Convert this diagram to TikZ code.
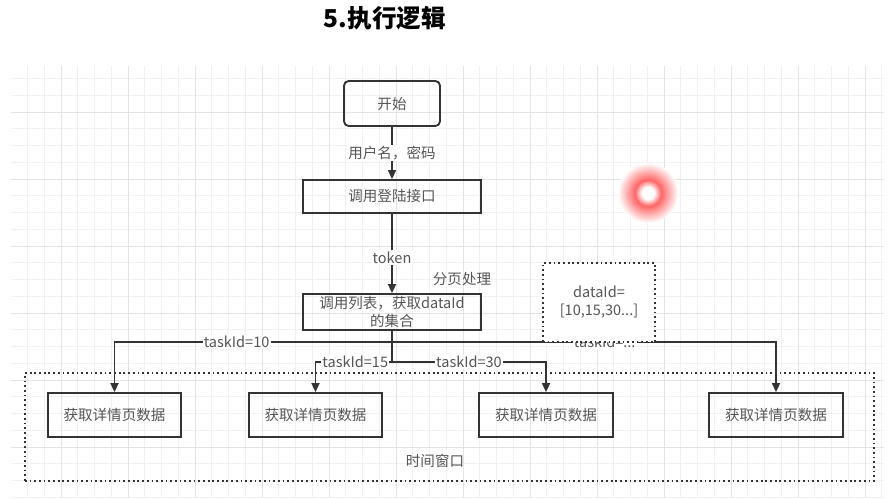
\documentclass[tikz,border=0pt]{standalone}
\usepackage{fontspec}
\setmainfont{Noto Sans CJK SC}
\usetikzlibrary{arrows.meta, positioning}

\definecolor{linegray}{HTML}{333333}
\definecolor{textgray}{HTML}{555555}
\definecolor{gridminor}{HTML}{F1F1F1}
\definecolor{gridmajor}{HTML}{E4E4E4}
\pgfdeclareradialshading{cursorglow}{\pgfpoint{0bp}{0bp}}{color(0bp)=(white); color(5bp)=(white); color(11bp)=(red!60); color(25bp)=(white); color(50bp)=(white)}

\tikzset{
  every node/.style={font=\fontsize{12.4}{15}\selectfont},
  box/.style={draw=linegray, line width=1.6pt, text=textgray, align=center, inner sep=0pt},
  detail/.style={box, minimum width=4cm, minimum height=1.32cm},
  lbl/.style={fill=white, text=textgray, inner sep=1pt},
  flow/.style={draw=linegray, line width=1.6pt, -{Triangle[length=0.27cm,width=0.24cm]}},
  dotbox/.style={draw=linegray, line width=1.5pt, dash pattern=on 1.5pt off 2.5pt}
}

\begin{document}
\begin{tikzpicture}[x=0.03cm, y=-0.03cm]
    \useasboundingbox (0,0) rectangle (895,498);
    % Background grid
    \begin{scope}
        \clip (11,66) rectangle (884,498);
        \foreach \i in {0,...,52}
            \draw[gridminor, line width=0.7pt] ({10.75+16.75*\i},66) -- ++(0,432);
        \foreach \j in {0,...,25}
            \draw[gridminor, line width=0.7pt] (11,{78.5+16.75*\j}) -- ++(873,0);
        \foreach \i in {0,...,12}
            \draw[gridmajor, line width=0.7pt] ({61+67*\i},66) -- ++(0,432);
        \foreach \j in {0,...,5}
            \draw[gridmajor, line width=0.7pt] (11,{112+67*\j}) -- ++(873,0);
    \end{scope}
    % Title
    \node[font=\fontsize{21}{25}\selectfont\bfseries] (title) at (385,18) {5.执行逻辑};
    % Cursor highlight
    \shade[shading=cursorglow] (648,193) circle (0.9cm);
    % Main flow
    \node[box, rounded corners=4pt, minimum width=2.88cm, minimum height=1.35cm] (start) at (392,103.5) {开始};
    \node[box, minimum width=5.34cm, minimum height=0.99cm] (login) at (392,196.5) {调用登陆接口};
    \node[box, minimum width=5.34cm, minimum height=1.08cm] (list) at (392,312) {调用列表，获取dataId\\的集合};
    \node[text=textgray] (paging) at (462,279) {分页处理};
    % Time window
    \node[dotbox, minimum width=25.47cm, minimum height=3.24cm] (window) at (449.5,427) {};
    \node[text=textgray] (windowlbl) at (435,461) {时间窗口};
    \node[detail] (d1) at (114.5,415) {获取详情页数据};
    \node[detail] (d2) at (315.5,415) {获取详情页数据};
    \node[detail] (d3) at (546,415) {获取详情页数据};
    \node[detail] (d4) at (776,415) {获取详情页数据};
    % Connectors
    \draw[flow] (start) -- node[lbl]{用户名，密码} (login);
    \draw[flow] (login) -- node[lbl, pos=0.55]{token} (list);
    \coordinate (busA) at (392,342);
    \coordinate (busB) at (392,362);
    \draw[flow] (list.south) -- (busA) -| node[lbl, pos=0.28]{taskId=10} (d1.north);
    \draw[flow] (busA) -| node[lbl, pos=0.277]{taskId=...} (d4.north);
    \draw[flow] (list.south) -- (busB) -| node[lbl, pos=0.24]{taskId=15} (d2.north);
    \draw[flow] (busB) -| node[lbl, pos=0.25]{taskId=30} (d3.north);
    % dataId note
    \node[dotbox, fill=white, text=textgray, align=center, minimum width=3.36cm, minimum height=2.37cm,
        font=\fontsize{12.4}{15.5}\selectfont] (dataids) at (599,302.5) {dataId=\\{}[10,15,30...]};
\end{tikzpicture}
\end{document}
